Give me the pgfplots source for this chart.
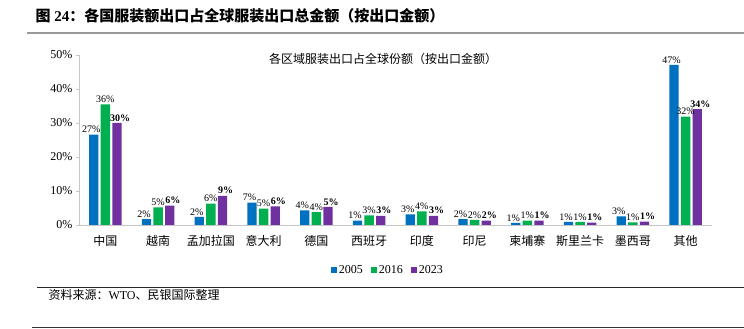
\documentclass[border=0pt]{standalone}
\usepackage{pgfplots}
\pgfplotsset{compat=1.18}
\usepackage{fontspec}
\setmainfont{Liberation Serif}
\newfontfamily\cjk{Noto Sans CJK SC}
\definecolor{c05}{HTML}{0070C0}
\definecolor{c16}{HTML}{00B050}
\definecolor{c23}{HTML}{7030A0}
\begin{document}
\begin{tikzpicture}[x=1pt,y=1pt]
\useasboundingbox (0,0) rectangle (744,329);
\node[anchor=west,font=\fontsize{15}{15}\selectfont\bfseries] at (32,313) {{\cjk 图} 24{\cjk ：各国服装额出口占全球服装出口总金额（按出口金额）}};
\draw[line width=1.6pt,gray!80] (27,296) -- (744,296);
\node[font=\fontsize{12}{12}\selectfont\cjk] at (383,270) {各区域服装出口占全球份额（按出口金额）};
\begin{axis}[
  at={(79pt,104pt)}, anchor=south west, scale only axis,
  width=633pt, height=170pt,
  xmin=-0.5, xmax=11.5, ymin=0, ymax=50,
  axis x line=bottom, axis y line=left,
  axis line style={gray!45,-},
  ytick={0,10,20,30,40,50},
  yticklabels={0\%,10\%,20\%,30\%,40\%,50\%},
  ytick style={gray!45},
  tick align=outside, major tick length=3pt,
  xtick={0,...,11},
  xticklabels={中国,越南,孟加拉国,意大利,德国,西班牙,印度,印尼,柬埔寨,斯里兰卡,墨西哥,其他},
  x tick label style={font=\fontsize{12}{12}\selectfont\cjk, yshift=-4pt},
  xtick style={draw=none},
  y tick label style={font=\fontsize{12}{12}\selectfont},
  ybar, bar width=9.3pt,
  point meta=explicit symbolic,
  nodes near coords,
  every node near coord/.append style={font=\fontsize{10}{10}\selectfont, inner sep=1.5pt},
  legend style={at={(0.488,-0.265)}, anchor=center, legend columns=3, draw=none,
    font=\fontsize{12}{12}\selectfont, /tikz/every even column/.append style={column sep=6pt}},
  legend image code/.code={\fill[#1] (0pt,-3pt) rectangle (6pt,3pt);},
]
\addplot[fill=c05, draw=none, bar shift=-11.7pt, every node near coord/.append style={xshift=-2.5pt}] coordinates {
(0,26.6) [27\%] (1,1.7) [2\%] (2,2.4) [2\%] (3,6.6) [7\%] (4,4.3) [4\%] (5,1.3) [1\%]
(6,3.1) [3\%] (7,1.7) [2\%] (8,0.6) [1\%] (9,0.9) [1\%] (10,2.5) [3\%] (11,47.1) [47\%]};
\addplot[fill=c16, draw=none, bar shift=0pt] coordinates {
(0,35.5) [36\%] (1,5.2) [5\%] (2,6.3) [6\%] (3,4.8) [5\%] (4,3.8) [4\%] (5,2.8) [3\%]
(6,4.0) [4\%] (7,1.5) [2\%] (8,1.3) [1\%] (9,0.9) [1\%] (10,0.8) [1\%] (11,31.9) [32\%]};
\addplot[fill=c23, draw=none, bar shift=11.7pt, every node near coord/.append style={font=\fontsize{10}{10}\selectfont\bfseries, xshift=3pt}] coordinates {
(0,30.0) [30\%] (1,5.7) [6\%] (2,8.6) [9\%] (3,5.5) [6\%] (4,5.3) [5\%] (5,2.7) [3\%]
(6,2.7) [3\%] (7,1.3) [2\%] (8,1.3) [1\%] (9,0.7) [1\%] (10,1.0) [1\%] (11,34.1) [34\%]};
\legend{2005,2016,2023}
\end{axis}
\draw[line width=0.9pt,black!85] (37,42) -- (744,42);
\node[anchor=west,font=\fontsize{12}{12}\selectfont] at (45,34) {{\cjk 资料来源：}WTO{\cjk 、民银国际整理}};
\draw[line width=1.2pt,black!80] (32,1.5) -- (744,1.5);
\end{tikzpicture}
\end{document}
